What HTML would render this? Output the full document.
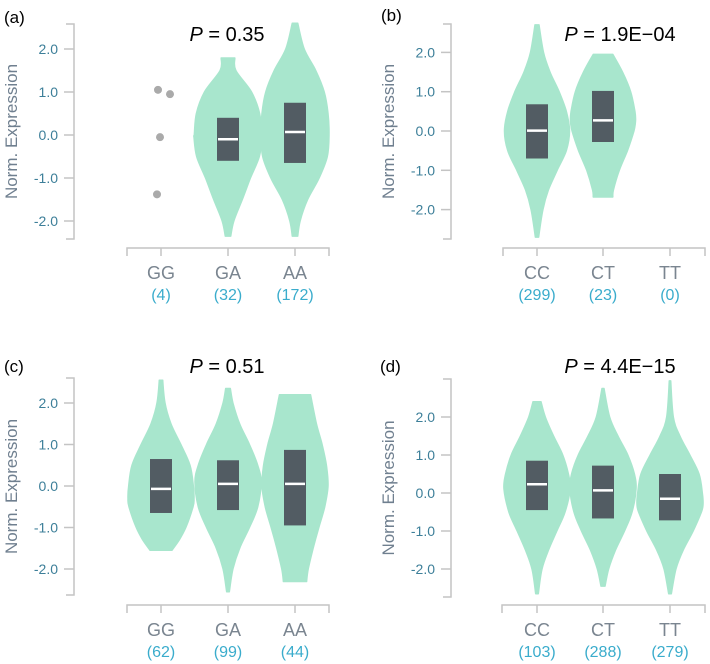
<!DOCTYPE html>
<html><head><meta charset="utf-8"><style>
body{margin:0;background:#fff;}
svg{display:block;font-family:"Liberation Sans",sans-serif;}
.tick{fill:#3d7f99;font-size:14px;text-anchor:end;}
.ytitle{fill:#6f7f8f;font-size:17px;text-anchor:middle;}
.cat{fill:#7a8590;font-size:18px;text-anchor:middle;}
.cnt{fill:#3aaccc;font-size:16px;text-anchor:middle;}
.ptitle{fill:#000;font-size:20px;text-anchor:middle;font-family:"Liberation Sans",sans-serif;}
.plabel{fill:#000;font-size:17px;}
</style></head><body>
<svg id="chart" width="710" height="664" viewBox="0 0 710 664"></svg>
<script>
// Panel metadata
const panelLabels = ["(a)","(b)","(c)","(d)"];
const panelP = ["0.35","1.9E\u221204","0.51","4.4E\u221215"];
const panelCats = [["GG","GA","AA"],["CC","CT","TT"],["GG","GA","AA"],["CC","CT","TT"]];
const panelCounts = [["(4)","(32)","(172)"],["(299)","(23)","(0)"],["(62)","(99)","(44)"],["(103)","(288)","(279)"]];
const yTicks = [2,1,0,-1,-2];
const yTickLabels = ["2.0","1.0","0.0","-1.0","-2.0"];
// Box stats [q1, median, q3] per category (null = none)
const boxA = [null,[-0.6,-0.1,0.4],[-0.65,0.07,0.75]];
const boxB = [[-0.7,0.01,0.68],[-0.28,0.27,1.02],null];
const boxC = [[-0.65,-0.07,0.65],[-0.58,0.05,0.62],[-0.95,0.05,0.87]];
const boxD = [[-0.45,0.23,0.85],[-0.67,0.07,0.72],[-0.72,-0.15,0.5]];
// Violin profiles: levels (value) and relative half-widths
const violinA = [null,
 {lv:[1.79,1.5,1.0,0.5,0,-0.05,-0.5,-1.0,-1.5,-2.0,-2.35],w:[0.2,0.23,0.69,0.93,0.99,1.0,0.92,0.66,0.42,0.17,0.08]},
 {lv:[2.6,2.0,1.5,1.0,0.5,0,-0.5,-1.0,-1.5,-2.0,-2.35],w:[0.08,0.27,0.61,0.86,0.97,1.0,0.95,0.71,0.37,0.15,0.08]}];
const violinB = [
 {lv:[2.7,2.0,1.5,1.0,0.5,0,-0.5,-1.0,-1.5,-2.0,-2.7],w:[0.06,0.2,0.4,0.68,0.9,1.0,0.9,0.62,0.35,0.18,0.05]},
 {lv:[1.95,1.5,1.0,0.5,0.25,0,-0.5,-1.0,-1.5,-1.68],w:[0.3,0.6,0.85,0.98,1.0,0.95,0.75,0.5,0.32,0.3]},
 null];
const violinC = [
 {lv:[2.55,2.0,1.5,1.0,0.5,0,-0.3,-0.5,-1.0,-1.3,-1.55],w:[0.05,0.12,0.3,0.6,0.88,0.98,1.0,0.97,0.75,0.55,0.33]},
 {lv:[2.35,2.0,1.5,1.0,0.5,0.1,-0.5,-1.0,-1.5,-2.0,-2.55],w:[0.07,0.15,0.35,0.65,0.9,1.0,0.9,0.65,0.35,0.15,0.04]},
 {lv:[2.2,1.5,1.0,0.5,0,-0.5,-1.0,-1.5,-2.0,-2.3],w:[0.47,0.65,0.82,0.95,1.0,0.9,0.72,0.55,0.4,0.35]}];
const violinD = [
 {lv:[2.4,2.0,1.5,1.0,0.5,0.1,-0.5,-1.0,-1.5,-2.0,-2.65],w:[0.12,0.25,0.5,0.78,0.95,1.0,0.85,0.6,0.35,0.15,0.04]},
 {lv:[2.75,2.0,1.5,1.0,0.5,0.1,-0.5,-1.0,-1.5,-2.0,-2.45],w:[0.03,0.2,0.45,0.75,0.95,1.0,0.88,0.65,0.38,0.17,0.06]},
 {lv:[2.95,2.0,1.5,1.0,0.5,0,-0.3,-0.5,-1.0,-1.5,-2.0,-2.65],w:[0.02,0.1,0.3,0.6,0.88,0.98,1.0,0.95,0.7,0.4,0.18,0.04]}];
// GG points in panel (a)
const pointsA = [1.05,0.95,-0.05,-1.38];
const pointsAOffset = [-3,9,-1,-4];

const boxes=[boxA,boxB,boxC,boxD];
const violins=[violinA,violinB,violinC,violinD];
// layout per panel (not data)
const L=[
 {ax:74,top:24,bot:239,y0:135,pu:43,xl:127,xr:329,xa:248,cx:[161,228,295],lbx:4,lby:23,tx:227,ty:41,ly1:279,ly2:300,hw:34},
 {ax:451,top:24,bot:239,y0:131,pu:39.3,xl:503,xr:705,xa:248,cx:[537,603,670],lbx:381,lby:21,tx:620,ty:41,ly1:279,ly2:300,hw:32.5},
 {ax:74,top:378,bot:595,y0:486,pu:41.5,xl:127,xr:329,xa:605,cx:[161,228,295],lbx:4,lby:372,tx:227,ty:373,ly1:636,ly2:657,hw:33},
 {ax:451,top:379,bot:597,y0:493,pu:38,xl:502,xr:705,xa:605,cx:[537,603,670],lbx:380,lby:372,tx:620,ty:373,ly1:636,ly2:657,hw:33}];
const NS="http://www.w3.org/2000/svg";
const svg=document.getElementById('chart');
function mk(tag,attrs,parent,text){const e=document.createElementNS(NS,tag);for(const k in attrs)e.setAttribute(k,attrs[k]);if(text!==undefined)e.textContent=text;(parent||svg).appendChild(e);return e;}
// smooth open curve through points (Catmull-Rom -> cubic Bezier)
function smooth(pts){
 let d='';
 for(let j=0;j<pts.length-1;j++){
  const p0=pts[Math.max(0,j-1)],p1=pts[j],p2=pts[j+1],p3=pts[Math.min(pts.length-1,j+2)];
  const c1=[p1[0]+(p2[0]-p0[0])/6,p1[1]+(p2[1]-p0[1])/6];
  const c2=[p2[0]-(p3[0]-p1[0])/6,p2[1]-(p3[1]-p1[1])/6];
  d+=`C${c1[0].toFixed(1)},${c1[1].toFixed(1)} ${c2[0].toFixed(1)},${c2[1].toFixed(1)} ${p2[0].toFixed(1)},${p2[1].toFixed(1)}`;
 }
 return d;
}
L.forEach((p,i)=>{
 const g=mk('g',{});
 
 
 const ys=v=>p.y0-v*p.pu;
 let t=mk('text',{x:p.lbx,y:p.lby,class:'plabel'},g,panelLabels[i]);
 
 
 t=mk('text',{x:p.tx,y:p.ty,class:'ptitle'},g);
 
 
 mk('tspan',{'font-style':'italic'},t,'P');
 mk('tspan',{},t,' = '+panelP[i]);
 let a=mk('path',{d:`M${p.ax-8},${p.top}H${p.ax}V${p.bot}H${p.ax-8}`,stroke:'#c4c4c4','stroke-width':1.5,fill:'none'},g);
 
 
 yTicks.forEach((v,k)=>{
  const y=ys(v);
  mk('line',{x1:p.ax-10,x2:p.ax,y1:y,y2:y,stroke:'#c4c4c4','stroke-width':1.5},g);
  const tl=mk('text',{x:p.ax-16,y:y+5,class:'tick'},g,yTickLabels[k]);
  
  
 });
 const yt=mk('text',{x:0,y:0,class:'ytitle',transform:`translate(${p.ax-57},${(p.top+p.bot)/2}) rotate(-90)`},g,'Norm. Expression');
 
 
 a=mk('path',{d:`M${p.xl},${p.xa+8}V${p.xa}H${p.xr}V${p.xa+8}`,stroke:'#c4c4c4','stroke-width':1.5,fill:'none'},g);
 
 
 p.cx.forEach((cx,k)=>{
  mk('line',{x1:cx,x2:cx,y1:p.xa,y2:p.xa+8,stroke:'#c4c4c4','stroke-width':1.5},g);
  const c=mk('text',{x:cx,y:p.ly1,class:'cat'},g,panelCats[i][k]);
  
  
  const n=mk('text',{x:cx,y:p.ly2,class:'cnt'},g,panelCounts[i][k]);
  
  
  const vi=violins[i][k];
  if(vi){
   let r=[],l=[];
   vi.lv.forEach((v,j)=>{r.push([cx+vi.w[j]*p.hw,ys(v)]);l.push([cx-vi.w[j]*p.hw,ys(v)]);});
   l.reverse();
   const d=`M${r[0][0].toFixed(1)},${r[0][1].toFixed(1)}`+smooth(r)+`L${l[0][0].toFixed(1)},${l[0][1].toFixed(1)}`+smooth(l)+'Z';
   const vp=mk('path',{d:d,fill:'#a8e6cd',stroke:'#a8e6cd','stroke-width':1.5,'stroke-linejoin':'round'},g);
   
   
  }
  const b=boxes[i][k];
  if(b){
   const br=mk('rect',{x:cx-11,y:ys(b[2]),width:22,height:ys(b[0])-ys(b[2]),fill:'#525c63'},g);
   
   
   const md=mk('line',{x1:cx-10,x2:cx+10,y1:ys(b[1]),y2:ys(b[1]),stroke:'#fff','stroke-width':2.5},g);
   
   
  }
 });
 if(i===0){
  pointsA.forEach((v,j)=>{
   const c=mk('circle',{cx:p.cx[0]+pointsAOffset[j],cy:ys(v),r:4,fill:'#aaaaaa'},g);
   
   
  });
 }
});
</script>
</body></html>
